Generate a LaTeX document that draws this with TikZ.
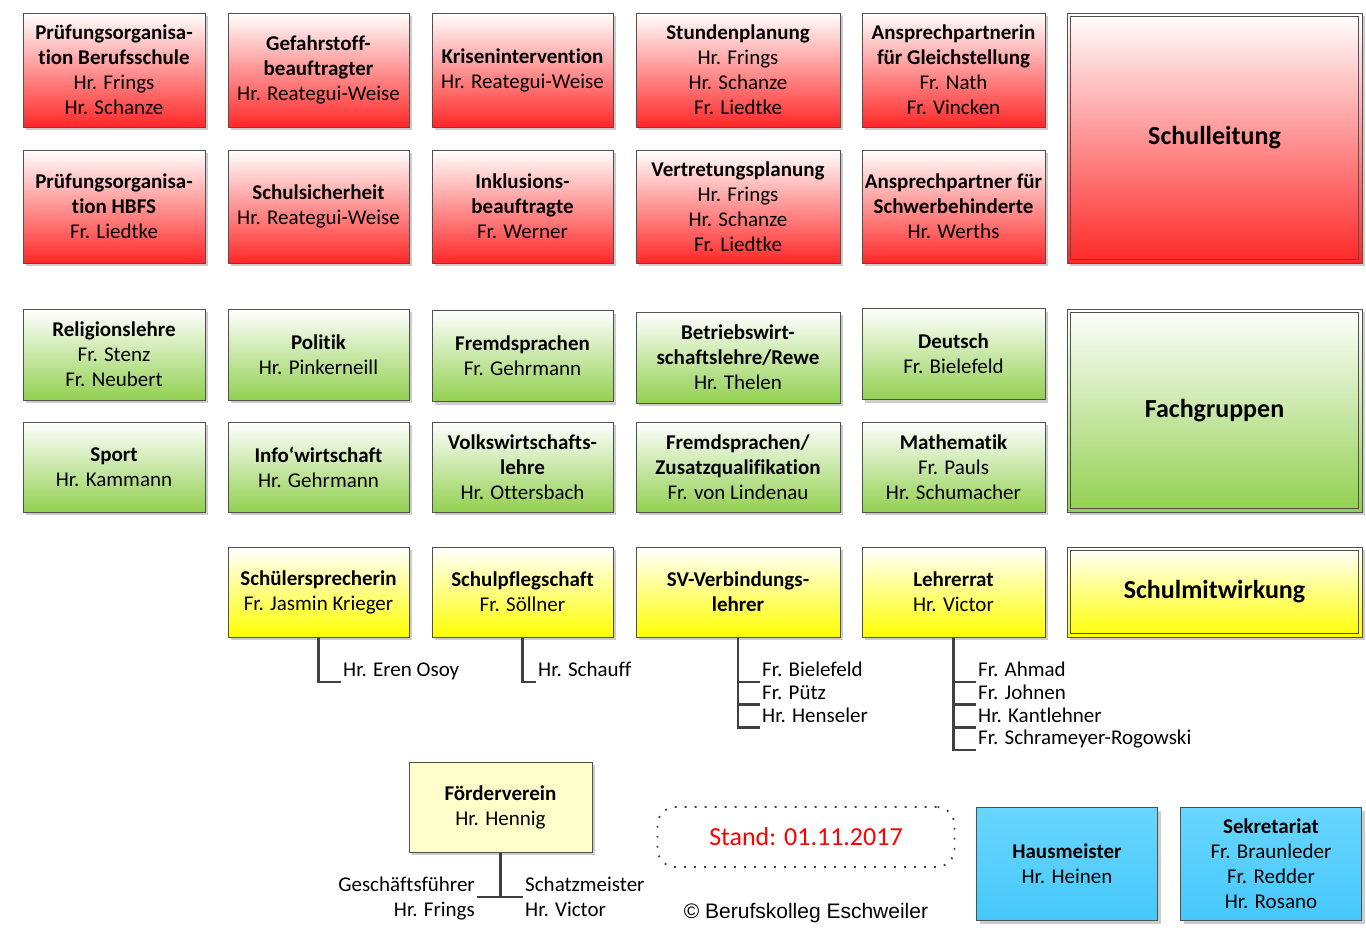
\documentclass[tikz,border=0pt]{standalone}
\usepackage{fontspec}
\setmainfont{Carlito}[Ligatures=NoCommon]
\newfontfamily\copyfont{Liberation Sans}
\usetikzlibrary{shadows}

\definecolor{boxRed}{RGB}{255,40,40}
\definecolor{midRed}{RGB}{255,178,178}
\definecolor{boxGreen}{RGB}{146,208,80}
\definecolor{midGreen}{RGB}{208,234,184}
\definecolor{boxYellow}{RGB}{255,255,0}
\definecolor{midYellow}{RGB}{255,255,170}
\definecolor{blueTop}{RGB}{104,214,255}
\definecolor{blueBot}{RGB}{70,200,250}
\definecolor{paleYellow}{RGB}{255,255,204}
\definecolor{frameGray}{RGB}{80,80,80}
\definecolor{lineGray}{RGB}{64,64,64}

\tikzset{
  box/.style={draw=frameGray, line width=1pt, minimum width=181pt, minimum height=90pt,
    inner sep=0pt, align=center, font=\fontsize{21}{25}\selectfont,
    drop shadow={shadow xshift=3pt, shadow yshift=-3pt, fill=black, opacity=0.2}},
  redbox/.style={box, top color=white, middle color=midRed, bottom color=boxRed},
  greenbox/.style={box, top color=white, middle color=midGreen, bottom color=boxGreen},
  yellowbox/.style={box, top color=white, middle color=midYellow, bottom color=boxYellow},
  bluebox/.style={box, top color=blueTop, bottom color=blueBot},
  headbox/.style={minimum width=295pt, font=\bfseries\fontsize{26}{30}\selectfont},
  member/.style={anchor=south west, inner sep=0pt, inner xsep=2pt, text depth=5pt,
    font=\fontsize{21}{25}\selectfont},
  link/.style={draw=lineGray, line width=2.5pt}
}

\begin{document}
\begin{tikzpicture}[x=1pt, y=-1pt]
\useasboundingbox (0,0) rectangle (1366,932);

% Schulleitung (red)
\node [redbox, minimum width=182pt, minimum height=114pt] (pbs) at (114,70)
  {\textbf{Prüfungsorganisa-}\\\textbf{tion Berufsschule}\\Hr. Frings\\Hr. Schanze};
\node [redbox, minimum height=114pt] (gef) at (318.5,70)
  {\textbf{Gefahrstoff-}\\\textbf{beauftragter}\\Hr. Reategui-Weise};
\node [redbox, minimum height=114pt] (krise) at (522.5,70)
  {\textbf{Krisenintervention}\\Hr. Reategui-Weise};
\node [redbox, minimum width=204pt, minimum height=114pt] (stdp) at (738,70)
  {\textbf{Stundenplanung}\\Hr. Frings\\Hr. Schanze\\Fr. Liedtke};
\node [redbox, minimum width=183pt, minimum height=114pt] (gleich) at (953.5,70)
  {\textbf{Ansprechpartnerin}\\\textbf{für Gleichstellung}\\Fr. Nath\\Fr. Vincken};

\node [redbox, minimum width=182pt, minimum height=113pt] (phbfs) at (114,206.5)
  {\textbf{Prüfungsorganisa-}\\\textbf{tion HBFS}\\Fr. Liedtke};
\node [redbox, minimum height=113pt] (sicher) at (318.5,206.5)
  {\textbf{Schulsicherheit}\\Hr. Reategui-Weise};
\node [redbox, minimum height=113pt] (inkl) at (522.5,206.5)
  {\textbf{Inklusions-}\\\textbf{beauftragte}\\Fr. Werner};
\node [redbox, minimum width=204pt, minimum height=113pt] (vertr) at (738,206.5)
  {\textbf{Vertretungsplanung}\\Hr. Frings\\Hr. Schanze\\Fr. Liedtke};
\node [redbox, minimum width=183pt, minimum height=113pt] (schwb) at (953.5,206.5)
  {\textbf{Ansprechpartner für}\\\textbf{Schwerbehinderte}\\Hr. Werths};

% Fachgruppen (green)
\node [greenbox, minimum width=182pt, minimum height=91pt] (reli) at (114,354.5)
  {\textbf{Religionslehre}\\Fr. Stenz\\Fr. Neubert};
\node [greenbox, minimum height=91pt] (poli) at (318.5,354.5)
  {\textbf{Politik}\\Hr. Pinkerneill};
\node [greenbox, minimum height=91pt] (fremd) at (522.5,356)
  {\textbf{Fremdsprachen}\\Fr. Gehrmann};
\node [greenbox, minimum width=204pt, minimum height=91pt] (bwl) at (738,357.5)
  {\textbf{Betriebswirt-}\\\textbf{schaftslehre/Rewe}\\Hr. Thelen};
\node [greenbox, minimum width=183pt, minimum height=91pt] (deutsch) at (953.5,354)
  {\textbf{Deutsch}\\Fr. Bielefeld};

\node [greenbox, minimum width=182pt] (sport) at (114,467)
  {\textbf{Sport}\\Hr. Kammann};
\node [greenbox] (info) at (318.5,467)
  {\textbf{Info‘wirtschaft}\\Hr. Gehrmann};
\node [greenbox] (vwl) at (522.5,467)
  {\textbf{Volkswirtschafts-}\\\textbf{lehre}\\Hr. Ottersbach};
\node [greenbox, minimum width=204pt] (zusatz) at (738,467)
  {\textbf{Fremdsprachen/}\\\textbf{Zusatzqualifikation}\\Fr. von Lindenau};
\node [greenbox, minimum width=183pt] (mathe) at (953.5,467)
  {\textbf{Mathematik}\\Fr. Pauls\\Hr. Schumacher};

% Schulmitwirkung (yellow)
\node [yellowbox] (schueler) at (318.5,592)
  {\textbf{Schülersprecherin}\\Fr. Jasmin Krieger};
\node [yellowbox] (pfleg) at (522.5,592)
  {\textbf{Schulpflegschaft}\\Fr. Söllner};
\node [yellowbox, minimum width=204pt] (sv) at (738,592)
  {\textbf{SV-Verbindungs-}\\\textbf{lehrer}};
\node [yellowbox, minimum width=183pt] (lrat) at (953.5,592)
  {\textbf{Lehrerrat}\\Hr. Victor};

% headers
\node [redbox, headbox, minimum height=250pt] (leitung) at (1214.5,138) {Schulleitung};
\node [greenbox, headbox, minimum height=203pt] (fach) at (1214.5,410.5) {Fachgruppen};
\node [yellowbox, headbox, minimum height=90pt] (mitw) at (1214.5,592) {Schulmitwirkung};
\foreach \h in {leitung,fach,mitw}
  \draw [frameGray, line width=1pt] ([xshift=4pt,yshift=-4pt]\h.north west)
    rectangle ([xshift=-4pt,yshift=4pt]\h.south east);

% members below the yellow boxes
\node [member] (osoy) at (341,682) {Hr. Eren Osoy};
\node [member] (schauff) at (536,682) {Hr. Schauff};
\node [member] (sv1) at (760,682) {Fr. Bielefeld};
\node [member] (sv2) at (760,704.7) {Fr. Pütz};
\node [member] (sv3) at (760,727.3) {Hr. Henseler};
\node [member] (lr1) at (976,682) {Fr. Ahmad};
\node [member] (lr2) at (976,704.7) {Fr. Johnen};
\node [member] (lr3) at (976,727.3) {Hr. Kantlehner};
\node [member] (lr4) at (976,750) {Fr. Schrameyer-Rogowski};

\draw [link] (schueler.south) |- (osoy.south west);
\draw [link] (pfleg.south) |- (schauff.south west);
\foreach \m in {sv1,sv2,sv3}
  \draw [link] (sv.south) |- (\m.south west);
\foreach \m in {lr1,lr2,lr3,lr4}
  \draw [link] (lrat.south) |- (\m.south west);

% Foerderverein
\node [box, fill=paleYellow, minimum width=183pt] (fv) at (500.5,807)
  {\textbf{Förderverein}\\Hr. Hennig};
\node [member, anchor=south east] (gf) at (477,897) {Geschäftsführer};
\node [member, anchor=base east] (gfname) at ([yshift=-25pt]gf.base east) {Hr. Frings};
\node [member] (sm) at (523,897) {Schatzmeister};
\node [member, anchor=base west] (smname) at ([yshift=-25pt]sm.base west) {Hr. Victor};
\draw [link] (fv.south) -- (fv.south |- gf.south);
\draw [link] (gf.south east) -- (sm.south west);

% date and copyright
\node [draw=lineGray, line width=1.8pt, dash pattern=on 1.8pt off 8.2pt, rounded corners=18pt,
  minimum width=297pt, minimum height=60pt, text=red, font=\fontsize{26}{30}\selectfont]
  (stand) at (806,837) {Stand: 01.11.2017};
\node [font=\copyfont\fontsize{21}{25}\selectfont] (copy) at (806,913) {© Berufskolleg Eschweiler};

% Hausmeister, Sekretariat
\node [bluebox, minimum height=113pt] (haus) at (1067,864)
  {\textbf{Hausmeister}\\Hr. Heinen};
\node [bluebox, minimum height=113pt] (sekr) at (1271,864)
  {\textbf{Sekretariat}\\Fr. Braunleder\\Fr. Redder\\Hr. Rosano};

\end{tikzpicture}
\end{document}
